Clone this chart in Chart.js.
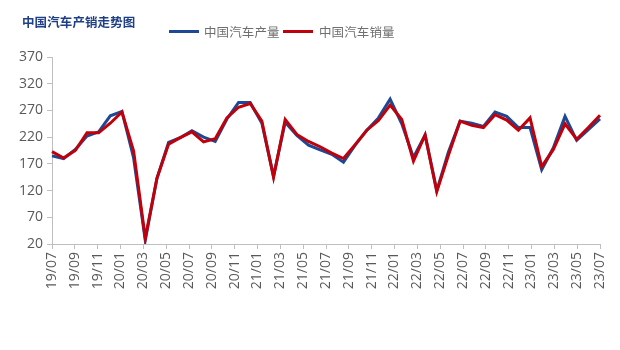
<!DOCTYPE html>
<html><head><meta charset="utf-8">
<script src="https://cdn.jsdelivr.net/npm/chart.js@4/dist/chart.umd.min.js"></script>
<style>
html,body{margin:0;padding:0;background:#fff;}
#wrap{position:relative;width:620px;height:350px;background:#fff;overflow:hidden;}
#c{position:absolute;left:0;top:0;}
.ttl{position:absolute;left:22px;top:13px;font:bold 12.5px "Noto Sans CJK SC";color:#1f3f86;line-height:18px;letter-spacing:0.1px;white-space:nowrap;}
.lg{position:absolute;top:22px;height:18px;line-height:18px;font:12.5px "Noto Sans CJK SC";color:#6e6e6e;letter-spacing:0.1px;white-space:nowrap;}
.sw{position:absolute;top:30px;width:30px;height:3px;}
</style></head>
<body><div id="wrap">
<canvas id="c" width="620" height="350"></canvas>
<div class="ttl">中国汽车产销走势图</div>
<div class="sw" style="left:169px;background:#1c4896"></div>
<div class="lg" style="left:204px">中国汽车产量</div>
<div class="sw" style="left:283px;background:#c0000a"></div>
<div class="lg" style="left:319px">中国汽车销量</div>
</div>
<script>
const tickLabels = ['19/07','19/09','19/11','20/01','20/03','20/05','20/07','20/09','20/11','21/01','21/03','21/05','21/07','21/09','21/11','22/01','22/03','22/05','22/07','22/09','22/11','23/01','23/03','23/05','23/07'];
const pointMonths = ['2019-06','2019-07','2019-08','2019-09','2019-10','2019-11','2019-12','2020-01','2020-02','2020-03','2020-04','2020-05','2020-06','2020-07','2020-08','2020-09','2020-11','2020-12','2021-01','2021-02','2021-03','2021-04','2021-05','2021-06','2021-07','2021-08','2021-09','2021-10','2021-11','2021-12','2022-01','2022-02','2022-03','2022-04','2022-05','2022-06','2022-07','2022-08','2022-09','2022-10','2022-11','2022-12','2023-01','2023-02','2023-03','2023-04','2023-05','2023-06'];
const production = [185,180,197,222,230,260,268,181,27,143,210,219,232,220,212,254,285,285,246,147,248,223,205,196,188,173,205,233,256,291,245,182,224,120,192,250,246,240,267,259,238,238,159,200,259,214,234,254];
const sales = [193,181,195,228,228,246,267,194,31,143,207,219,230,211,217,256,276,283,250,145,253,225,212,202,190,180,206,233,251,280,253,175,224,118,186,250,242,238,262,252,233,256,165,197,245,216,238,261];
const seriesNames = ['中国汽车产量','中国汽车销量'];

const axisColor = '#bfbfbf';
const labelFont = {family:'"Open Sans"', size:14};
new Chart(document.getElementById('c'), {
  type:'line',
  data:{
    labels: pointMonths,
    datasets:[
      {label:seriesNames[1], data:sales, xAxisID:'xd', yAxisID:'y', borderColor:'#c0000a', borderWidth:3, pointRadius:0, tension:0, fill:false, order:1},
      {label:seriesNames[0], data:production, xAxisID:'xd', yAxisID:'y', borderColor:'#1c4896', borderWidth:3, pointRadius:0, tension:0, fill:false, order:2}
    ]
  },
  options:{
    responsive:false, animation:false, devicePixelRatio:1,
    layout:{padding:{top:57,right:20,left:0,bottom:0}},
    plugins:{legend:{display:false}, title:{display:false}, tooltip:{enabled:false}},
    scales:{
      xd:{type:'category', labels:pointMonths, offset:false, display:false},
      x:{type:'category', labels:tickLabels, offset:false, position:'bottom',
         ticks:{autoSkip:false, maxRotation:90, minRotation:90, color:'#595959', font:labelFont, padding:3},
         grid:{display:true, drawOnChartArea:false, drawTicks:true, tickLength:5, color:axisColor},
         border:{display:true, color:axisColor, width:1},
         afterFit:(s)=>{s.height=106;}},
      y:{type:'linear', min:20, max:370,
         ticks:{stepSize:50, color:'#595959', font:labelFont, padding:4},
         grid:{display:true, drawOnChartArea:false, drawTicks:true, tickLength:5, color:axisColor},
         border:{display:true, color:axisColor, width:1},
         afterFit:(s)=>{s.width=52;}}
    }
  }
});
</script>
</body></html>
